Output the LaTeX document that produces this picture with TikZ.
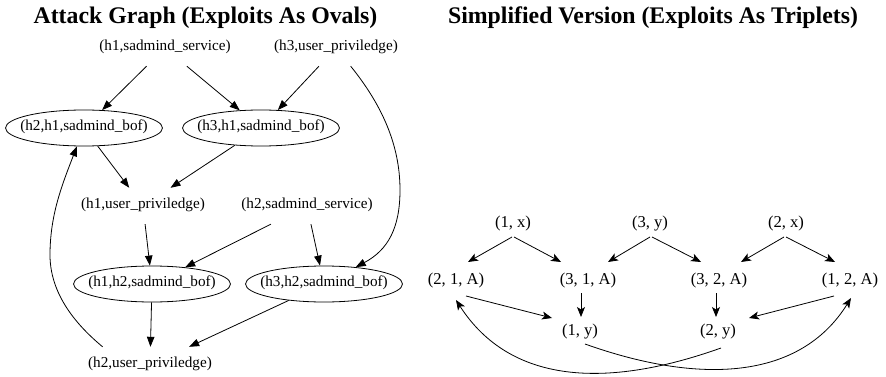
\documentclass[tikz,border=0pt]{standalone}
\usepackage{fontspec}
\setmainfont{Liberation Serif}
\usetikzlibrary{arrows.meta,shapes.geometric}
\newcommand{\ovtext}[1]{\makebox[111pt][c]{#1}}
\begin{document}
\begin{tikzpicture}[x=1pt,y=-1pt,
  title/.style={font=\fontsize{23.8}{28}\selectfont\bfseries, anchor=base, inner sep=0pt},
  lbl/.style={font=\fontsize{15.2}{18}\selectfont, text height=0.75em, text depth=0.25em, minimum height=36pt, inner xsep=8pt, inner ysep=0pt},
  oval/.style={lbl, draw, ellipse, minimum width=157pt, minimum height=36pt, inner sep=0pt, line width=0.8pt},
  tri/.style={font=\fontsize{16.6}{20}\selectfont, text height=0.75em, text depth=0.25em, inner sep=0pt},
  larr/.style={-{Triangle[length=10pt,width=7.5pt]}, line width=0.8pt},
  rarr/.style={-{Stealth[length=10pt,width=8pt,inset=2.5pt]}, line width=0.8pt}
]
\useasboundingbox (0,0) rectangle (886,377);
% titles
\node[title] (t1) at (205.5,24) {Attack Graph (Exploits As Ovals)};
\node[title] (t2) at (653,24) {Simplified Version (Exploits As Triplets)};
% left graph nodes
\node[lbl] (h1s) at (165,48) {(h1,sadmind\_service)};
\node[lbl] (h3u) at (336,48) {(h3,user\_priviledge)};
\node[oval] (h2h1) at (84,128) {\ovtext{(h2,h1,sadmind\_bof)}};
\node[oval] (h3h1) at (261,128) {\ovtext{(h3,h1,sadmind\_bof)}};
\node[lbl] (h1u) at (143,206) {(h1,user\_priviledge)};
\node[lbl] (h2s) at (307,206) {(h2,sadmind\_service)};
\node[oval] (h1h2) at (152,284) {\ovtext{(h1,h2,sadmind\_bof)}};
\node[oval] (h3h2) at (324,284) {\ovtext{(h3,h2,sadmind\_bof)}};
\node[lbl] (h2u) at (150,365) {(h2,user\_priviledge)};
% left graph edges
\draw[larr] (h1s) -- (h2h1);
\draw[larr] (h1s) -- (h3h1);
\draw[larr] (h3u) -- (h3h1);
\draw[larr] (h3u) .. controls (382,105) and (400,145) .. (400,190) .. controls (400,228) and (388,250) .. (h3h2);
\draw[larr] (h2h1) -- (h1u);
\draw[larr] (h3h1) -- (h1u);
\draw[larr] (h2u.159) .. controls (85,332) and (50,300) .. (50,255) .. controls (50,215) and (62,185) .. (h2h1);
\draw[larr] (h1u) -- (h1h2);
\draw[larr] (h2s) -- (h1h2);
\draw[larr] (h2s) -- (h3h2);
\draw[larr] (h1h2) -- (h2u);
\draw[larr] (h3h2) -- (h2u);
% right graph nodes
\node[tri] (n1x) at (513,225) {(1, x)};
\node[tri] (n3y) at (650,225) {(3, y)};
\node[tri] (n2x) at (786,225) {(2, x)};
\node[tri] (n21A) at (456,282) {(2, 1, A)};
\node[tri] (n31A) at (588,282) {(3, 1, A)};
\node[tri] (n32A) at (719,282) {(3, 2, A)};
\node[tri] (n12A) at (850,282) {(1, 2, A)};
\node[tri] (n1y) at (580,333) {(1, y)};
\node[tri] (n2y) at (718,333) {(2, y)};
% right graph edges
\draw[rarr] ([shift={(-1,12)}]n1x.center) -- ([shift={(12,-20)}]n21A.center);
\draw[rarr] ([shift={(1,12)}]n1x.center) -- ([shift={(-27,-20)}]n31A.center);
\draw[rarr] ([shift={(0,12)}]n3y.center) -- ([shift={(20,-20)}]n31A.center);
\draw[rarr] ([shift={(2,12)}]n3y.center) -- ([shift={(-18,-20)}]n32A.center);
\draw[rarr] ([shift={(-2,12)}]n2x.center) -- ([shift={(22,-20)}]n32A.center);
\draw[rarr] ([shift={(0,12)}]n2x.center) -- ([shift={(-15,-20)}]n12A.center);
\draw[rarr] ([shift={(-7,11)}]n31A.center) -- ([shift={(1,-16)}]n1y.center);
\draw[rarr] ([shift={(-3,11)}]n32A.center) -- ([shift={(-2,-16)}]n2y.center);
\draw[rarr] ([shift={(10,14)}]n21A.center) -- ([shift={(-28,-15)}]n1y.center);
\draw[rarr] ([shift={(-16,14)}]n12A.center) -- ([shift={(31,-15)}]n2y.center);
\draw[rarr] ([shift={(5,11)}]n1y.center) .. controls (700,385) and (800,380) .. ([shift={(1,16)}]n12A.center);
\draw[rarr] ([shift={(3,15)}]n2y.center) .. controls (606,389) and (510,384) .. ([shift={(0,18)}]n21A.center);
\end{tikzpicture}
\end{document}
